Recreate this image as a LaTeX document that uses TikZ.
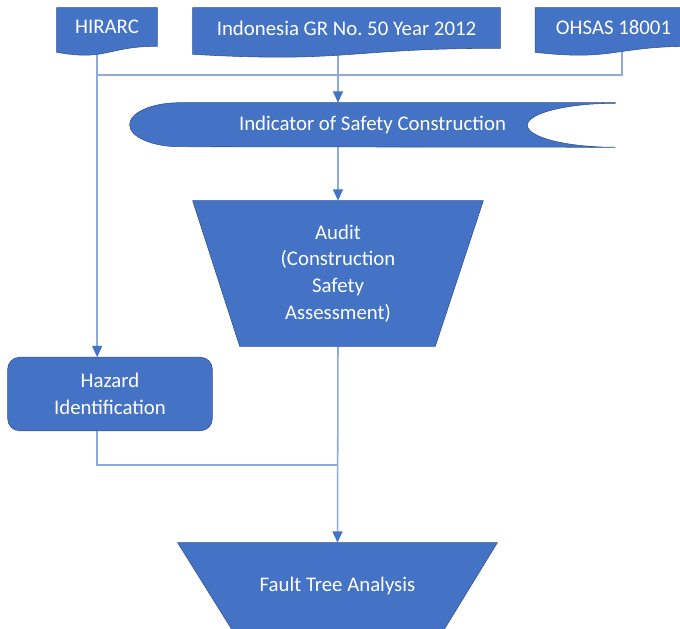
\documentclass[tikz,border=0pt]{standalone}
\usepackage{fontspec}
\setmainfont{Carlito}
\usetikzlibrary{arrows.meta,calc,positioning,backgrounds}
\definecolor{boxblue}{HTML}{4472C4}
\definecolor{edgeblue}{HTML}{2F528F}
\definecolor{lineblue}{HTML}{8FAADC}

\begin{document}
\begin{tikzpicture}[x=0.025cm, y=-0.025cm,
    blocktext/.style={text=white, font=\fontsize{14.8}{19}\selectfont, align=center, inner sep=0pt},
    blockfill/.style={fill=boxblue, draw=edgeblue, line width=0.4pt},
    link/.style={draw=lineblue, line width=1.1pt},
    linkarrow/.style={link, -{Triangle[length=8pt,width=7pt,color=boxblue]}}]
    \useasboundingbox (0,0) rectangle (680,629);

    % sources on top
    \node[blocktext, minimum width=2.5cm, minimum height=0.95cm] (hirarc) at (107,27) {HIRARC};
    \node[blocktext, minimum width=7.675cm, minimum height=1cm] (gr) at (346.5,28) {Indonesia GR No.\ 50 Year 2012};
    \node[blocktext, minimum width=3.9cm, minimum height=0.95cm] (ohsas) at (613.5,27) {OHSAS 18001};

    % indicator, audit, hazard, fault tree
    \node[blocktext, minimum width=12.125cm, minimum height=1.1cm] (ind) at (372.5,125) {Indicator of Safety Construction};
    \node[blocktext, minimum width=7.25cm, minimum height=3.625cm] (audit) at (338,273.5) {Audit\\(Construction\\Safety\\Assessment)};
    \node[blocktext, minimum width=5.1cm, minimum height=1.825cm] (hazard) at (110,394) {Hazard\\Identification};
    \node[blocktext, minimum width=7.975cm, minimum height=2.15cm] (fta) at (337.5,586) {Fault Tree Analysis};

    \coordinate (bus) at (0,75);
    \coordinate (join) at (0,465);
    \coordinate (drop) at ([xshift=-7pt]hirarc.south);
    \coordinate (rise) at ([xshift=6pt]ohsas.south);

    \begin{scope}[on background layer]
        % connectors below the shapes
        \draw[link] (rise) -- (rise |- bus) -- (drop |- bus);
        \draw[linkarrow] (drop) -- (drop |- hazard.north);
        \draw[linkarrow] (gr.south -| audit.north) -- (audit.north |- ind.north);
        \draw[linkarrow] (audit.north |- ind.south) -- (audit.north);
        \draw[link] (drop |- hazard.south) |- (audit.south |- join);
        \draw[linkarrow] (audit.south) -- (fta.north);

        % document shapes
        \foreach \n in {hirarc,gr,ohsas}
            \path[blockfill] (\n.north west) -- (\n.north east) -- (\n.south east)
                .. controls (\n.south) and ($(\n.south)+(0,15)$) .. ($(\n.south west)+(0,6)$) -- cycle;

        % stored data
        \path[blockfill] (ind.north east) -- ($(ind.north west)+(50,0)$)
            arc[start angle=270, end angle=90, x radius=50, y radius=22]
            -- (ind.south east) arc[start angle=90, end angle=270, x radius=88, y radius=22] -- cycle;

        \path[blockfill] (audit.north west) -- (audit.north east) -- ($(audit.south east)+(-48,0)$) -- ($(audit.south west)+(47,0)$) -- cycle;
        \path[blockfill, rounded corners=8.5pt] (hazard.north west) rectangle (hazard.south east);
        \path[blockfill] (fta.north west) -- (fta.north east) -- ($(fta.south east)+(-53,0)$) -- ($(fta.south west)+(54,0)$) -- cycle;
    \end{scope}
\end{tikzpicture}
\end{document}
